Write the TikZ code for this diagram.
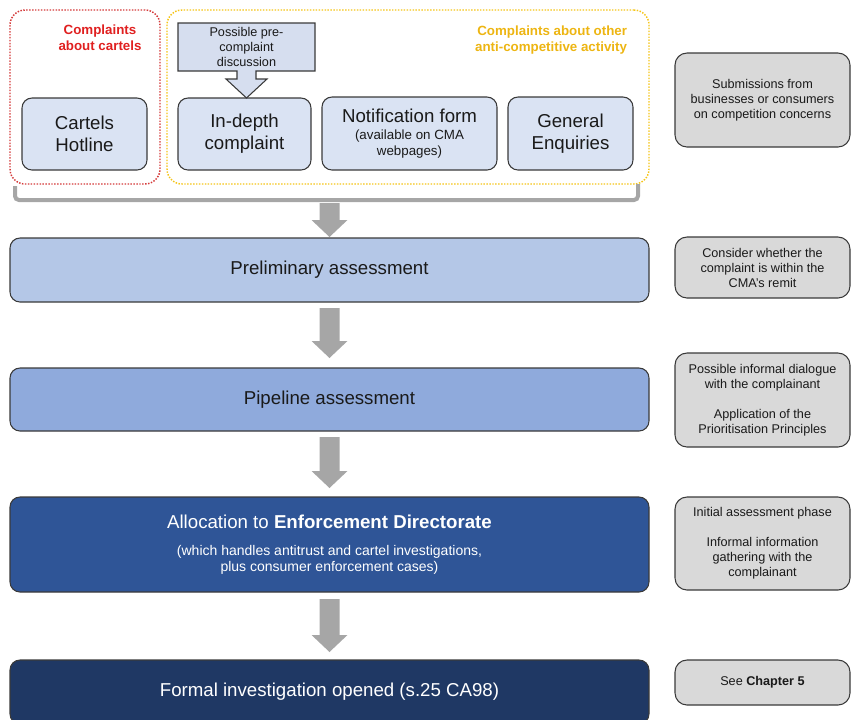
\documentclass[tikz,border=0pt]{standalone}
\usepackage{fontspec}
\setmainfont{Liberation Sans}
\usetikzlibrary{calc}
\definecolor{boxblue}{HTML}{DAE3F3}
\definecolor{callblue}{HTML}{D6DEEF}
\definecolor{prelimc}{HTML}{B4C7E7}
\definecolor{pipec}{HTML}{8FAADC}
\definecolor{allocc}{HTML}{2F5597}
\definecolor{formalc}{HTML}{1F3864}
\definecolor{grayfill}{HTML}{D9D9D9}
\definecolor{arrowgray}{HTML}{A6A6A6}
\definecolor{bordc}{HTML}{3A3A3A}
\definecolor{redline}{HTML}{D43A3A}
\definecolor{redtext}{HTML}{E02020}
\definecolor{yelline}{HTML}{F5C518}
\definecolor{yeltext}{HTML}{EDB512}
\definecolor{darktext}{HTML}{1A1A1A}
\newcommand\myL{\fontsize{14}{16.5}\selectfont}
\newcommand\myM{\fontsize{10}{12}\selectfont}
\newcommand\myS{\fontsize{9.5}{11.25}\selectfont}
\newcommand\mySub{\fontsize{10.5}{12}\selectfont}
\newcommand\flowarrow[4]{%
  \fill[arrowgray] ($(#1)+(-10,#3)$) -- ($(#2)+(-10,-#4-17)$) -- ($(#2)+(-18,-#4-17)$)
    -- ($(#2)+(0,-#4)$) -- ($(#2)+(18,-#4-17)$) -- ($(#2)+(10,-#4-17)$)
    -- ($(#1)+(10,#3)$) -- cycle;}
\begin{document}
\begin{tikzpicture}[x=0.75pt,y=-0.75pt,
  every node/.style={inner sep=0pt, outer sep=0pt, text=darktext},
  groupbox/.style={draw, rounded corners=11.25pt, line width=1.1pt, dash pattern=on 1.1pt off 1.1pt},
  srcbox/.style={draw=bordc, fill=boxblue, line width=0.8pt, rounded corners=7.5pt,
    align=center, font=\myL},
  bar/.style={draw=bordc, line width=0.8pt, rounded corners=7.5pt, minimum width=479.25pt,
    align=center, font=\myL},
  notebox/.style={draw=bordc, fill=grayfill, line width=0.8pt, rounded corners=9pt,
    minimum width=131.25pt, align=center, font=\myS},
  bracket/.style={draw=arrowgray, line width=3pt, rounded corners=3pt},
  heading/.style={font=\bfseries\fontsize{10}{12}\selectfont, align=center}
]
\useasboundingbox (0,0) rectangle (851,719);

% group boxes
\node[groupbox, draw=redline, minimum width=112.5pt, minimum height=130.5pt] (redbox) at (85,97) {};
\node[groupbox, draw=yelline, minimum width=361.5pt, minimum height=130.5pt] (yelbox) at (408,97) {};
\node[heading, text=redtext] (redhead) at (100,38) {Complaints\\about cartels};
\node[heading, text=yeltext, align=right, anchor=east] (yelhead) at (627,40) {Complaints about other\\anti-competitive activity};

% source boxes
\node[srcbox, minimum width=93.75pt, minimum height=54pt] (hotline) at (84.5,134) {Cartels\\Hotline};
\node[srcbox, minimum width=99.75pt, minimum height=54pt] (indepth) at (244.5,134) {In-depth\\complaint};
\node[srcbox, minimum width=131.25pt, minimum height=54.75pt, font=\myM] (notif) at (409.5,133.5)
  {\myL Notification form\\[1pt]\myM(available on CMA\\\myM webpages)};
\node[srcbox, minimum width=93.75pt, minimum height=54.75pt] (general) at (570.5,133.5) {General\\Enquiries};

% pre-complaint callout
\node[minimum width=102.75pt, minimum height=36pt, align=center, font=\myS] (pre) at (246.5,47)
  {Possible pre-\\complaint\\discussion};
\draw[draw=bordc, fill=callblue, line width=0.8pt]
  (pre.north west) -- (pre.north east) -- (pre.south east)
  -- ($(pre.south)+(9.5,0)$) -- ++(0,8) -- ++(11,0) -- (pre.south |- indepth.north)
  -- ($(pre.south)+(-20.5,8)$) -- ++(11,0) -- ($(pre.south)+(-9.5,0)$)
  -- (pre.south west) -- cycle;
\node[align=center, font=\myS] at (pre) {Possible pre-\\complaint\\discussion};

% bracket
\coordinate (bl) at (15,186);
\coordinate (br) at (638,184);
\coordinate (bm) at (329.5,200);
\draw[bracket] (bl) |- (bm) -| (br);

% main bars
\node[bar, fill=prelimc, minimum height=48pt] (prelim) at (329.5,270) {Preliminary assessment};
\node[bar, fill=pipec, minimum height=47.25pt] (pipe) at (329.5,399.5) {Pipeline assessment};
\node[bar, fill=allocc, minimum height=71.25pt, text=white, font=\mySub] (alloc) at (329.5,544.5)
  {\myL Allocation to \textbf{Enforcement Directorate}\\[8pt]\mySub(which handles antitrust and cartel investigations,\\\mySub plus consumer enforcement cases)};
\node[bar, fill=formalc, minimum height=48pt, text=white] (formal) at (329.5,692) {Formal investigation opened (s.25 CA98)};

% arrows
\flowarrow{bm}{prelim.north}{3}{1}
\flowarrow{prelim.south}{pipe.north}{6}{10}
\flowarrow{pipe.south}{alloc.north}{6}{9}
\flowarrow{alloc.south}{formal.north}{7}{8}

% notes
\node[notebox, minimum height=70.5pt] (n1) at (762.5,100) {Submissions from\\businesses or consumers\\on competition concerns};
\node[notebox, minimum height=45.75pt] (n2) at (762.5,267.5) {Consider whether the\\complaint is within the\\CMA's remit};
\node[notebox, minimum height=70.5pt] (n3) at (762.5,400) {Possible informal dialogue\\with the complainant\\[11pt]Application of the\\Prioritisation Principles};
\node[notebox, minimum height=69.75pt] (n4) at (762.5,543.5) {Initial assessment phase\\[11pt]Informal information\\gathering with the\\complainant};
\node[notebox, minimum height=33.75pt] (n5) at (762.5,682.5) {See \textbf{Chapter 5}};
\end{tikzpicture}
\end{document}
